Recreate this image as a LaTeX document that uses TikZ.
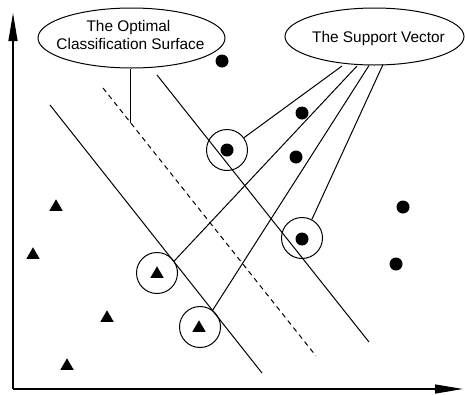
\documentclass[tikz,border=0pt]{standalone}
\usepackage{fontspec}
\setmainfont{Liberation Sans}
\usetikzlibrary{arrows.meta,shapes.geometric}
\tikzset{
  thinline/.style={line width=1pt, black},
  axisline/.style={line width=1.2pt, black, -{Triangle[length=28pt,width=9pt]}},
  label/.style={font=\fontsize{15.4}{18}\selectfont, inner sep=0pt, anchor=base},
  callout/.style={ellipse, draw, line width=1pt, inner sep=0pt},
  ring/.style={circle, draw, line width=1pt, minimum size=41pt, inner sep=0pt},
  dot/.style={circle, fill=black, minimum size=13pt, inner sep=0pt},
  tri/.style={regular polygon, regular polygon sides=3, fill=black, minimum size=15.5pt, inner sep=0pt},
}
\begin{document}
\begin{tikzpicture}[x=1pt,y=-1pt]
\useasboundingbox (0,0) rectangle (465,394);
% axes
\coordinate (O) at (13,389);
\coordinate (ytip) at (13,13);
\coordinate (xtip) at (463,389);
\draw[axisline] (O) -- (ytip);
\draw[axisline] (O) -- (xtip);
% margin lines
\coordinate (m1a) at (50,105);  \coordinate (m1b) at (262,373);
\coordinate (m2a) at (157,75);  \coordinate (m2b) at (369,342);
\coordinate (da) at (103,88);   \coordinate (db) at (316,356);
\draw[thinline] (m1a) -- (m1b);
\draw[thinline] (m2a) -- (m2b);
\draw[thinline, dash pattern=on 5pt off 4pt] (da) -- (db);
% callouts
\node[callout, minimum width=187pt, minimum height=60pt] (opt) at (131.5,38) {};
\node[label] (opt1) at (128.5,31) {The Optimal};
\node[label] (opt2) at (130.5,49) {Classification Surface};
\node[callout, minimum width=179pt, minimum height=57pt] (sv) at (374.5,36.5) {};
\node[label] (svt) at (378.5,42) {The Support Vector};
% pointer to optimal surface
\coordinate (pt) at (130.5,123);
\draw[thinline] (opt.south -| pt) -- (pt);
% support vector rings
\node[ring] (c1) at (227,150) {};
\node[ring] (c2) at (302,238) {};
\node[ring] (c3) at (157,273) {};
\node[ring] (c4) at (200,327) {};
% dots
\node[dot] (d1) at (222,61) {};
\node[dot] (d2) at (302,113) {};
\node[dot] (d3) at (296,157) {};
\node[dot] (d4) at (227,150) {};
\node[dot] (d5) at (302,239) {};
\node[dot] (d6) at (403,207) {};
\node[dot] (d7) at (396,264) {};
% triangles
\node[tri] (t1) at (56,207) {};
\node[tri] (t2) at (33,255) {};
\node[tri] (t3) at (107,318) {};
\node[tri] (t4) at (67,366) {};
\node[tri] (t5) at (157,274) {};
\node[tri] (t6) at (199,328) {};
% connectors from support vector callout
\coordinate (s1) at (342,66);
\coordinate (s2) at (357,66);
\coordinate (s3) at (369,65.5);
\coordinate (s4) at (383,64.5);
\draw[thinline] (s1) -- (c1.36);
\draw[thinline] (s2) -- (c3.35);
\draw[thinline] (s3) -- (c4.53);
\draw[thinline] (s4) -- (c2.62);
\end{tikzpicture}
\end{document}
